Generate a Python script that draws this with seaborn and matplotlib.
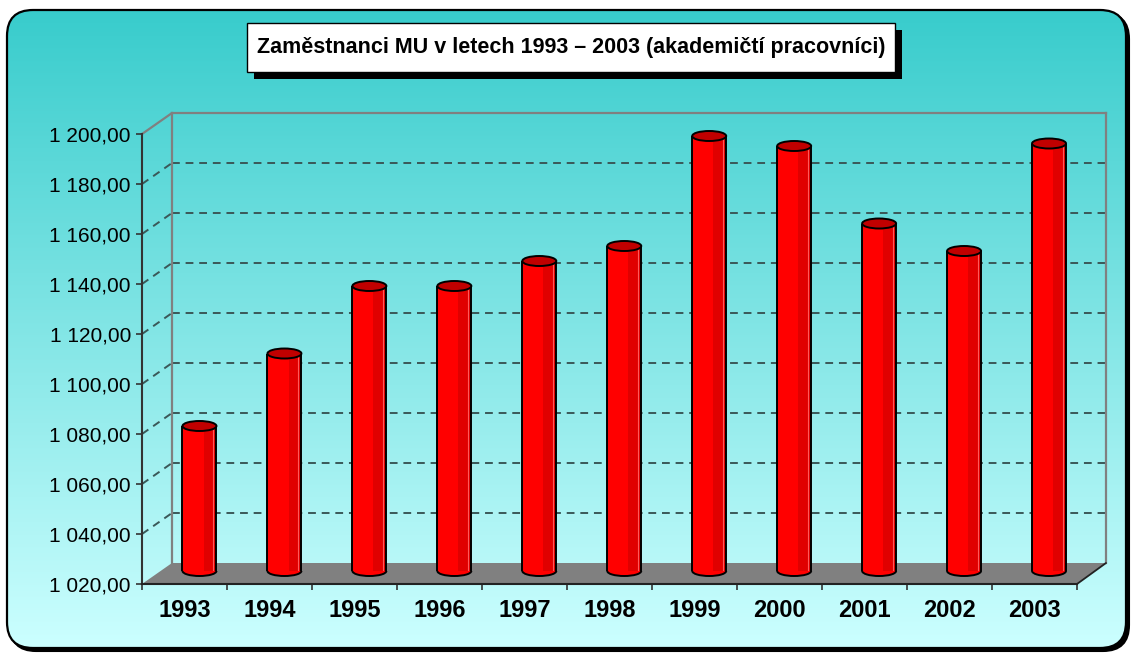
import numpy as np
import pandas as pd
import matplotlib
matplotlib.use("Agg")
import matplotlib.pyplot as plt
import seaborn as sns
from matplotlib.patches import FancyBboxPatch, Rectangle, Polygon, Ellipse, Arc
from matplotlib.lines import Line2D
from matplotlib.ticker import FuncFormatter

# ---------------- data ----------------
years = ["1993", "1994", "1995", "1996", "1997", "1998", "1999", "2000", "2001", "2002", "2003"]
staff = [1078, 1107, 1134, 1134, 1144, 1150, 1194, 1190, 1159, 1148, 1191]
y_ticks = [1020, 1040, 1060, 1080, 1100, 1120, 1140, 1160, 1180, 1200]
title = "Zaměstnanci MU v letech 1993 – 2003 (akademičtí pracovníci)"

W, H = 1131, 655
sns.set_theme(style="white")
plt.rcParams['font.family'] = ['Liberation Sans', 'DejaVu Sans']
plt.rcParams['text.color'] = 'black'

fig = plt.figure(figsize=(W / 100, H / 100), dpi=100)
fig.patch.set_facecolor('white')


def rect(x0, y0, x1, y1):
    return [x0 / W, 1 - y1 / H, (x1 - x0) / W, (y1 - y0) / H]


# ---------------- background panel ----------------
bg = fig.add_axes([0, 0, 1, 1], zorder=0)
bg.set_xlim(0, W)
bg.set_ylim(H, 0)
bg.axis('off')

px0, py0, px1, py1 = 7, 10, 1126, 648
shadow = FancyBboxPatch((px0 + 3, py0 + 3), px1 - px0, py1 - py0,
                        boxstyle="round,pad=0,rounding_size=26",
                        fc='black', ec='black', lw=1.5)
bg.add_patch(shadow)
panel = FancyBboxPatch((px0, py0), px1 - px0, py1 - py0,
                       boxstyle="round,pad=0,rounding_size=26",
                       fc='none', ec='black', lw=1.6, zorder=3)
bg.add_patch(panel)
top_c = np.array([0.22, 0.80, 0.80])
bot_c = np.array([0.80, 1.00, 1.00])
t = np.linspace(0, 1, 400)[:, None]
grad = (top_c * (1 - t) + bot_c * t)[:, None, :]
im = bg.imshow(grad, extent=(px0, px1, py1, py0), origin='upper',
               aspect='auto', zorder=2, interpolation='bilinear')
im.set_clip_path(panel)

# title box
bg.add_patch(Rectangle((254, 30), 648, 49, fc='black', ec='none', zorder=4))
bg.add_patch(Rectangle((247, 23), 648, 49, fc='white', ec='black', lw=1.0, zorder=5))
bg.text(571, 48, title, ha='center', va='center', fontsize=15.5, fontweight='bold',
        color='black', family=['Liberation Sans Narrow', 'Liberation Sans', 'DejaVu Sans'],
        zorder=6)

# ---------------- axes: back wall, front axis, bar plane ----------------
ax_back = fig.add_axes(rect(172, 113, 1106, 563), zorder=1)
ax_front = fig.add_axes(rect(142, 134, 1077, 584), zorder=2)
ax_mid = fig.add_axes(rect(157, 121, 1091.5, 571), zorder=3)

for a in (ax_back, ax_front, ax_mid):
    a.set_facecolor('none')

nx = len(years)
xlo, xhi = -0.5, nx - 0.5

# back wall
ax_back.set_xlim(xlo, xhi)
ax_back.set_ylim(y_ticks[0], y_ticks[-1])
ax_back.set_xticks([])
ax_back.set_yticks(y_ticks[1:-1])
ax_back.tick_params(axis='y', length=0, labelleft=False)
ax_back.grid(axis='y', color='#3a5858', lw=1.4, linestyle=(0, (4, 3)))
for s in ('top', 'left', 'right'):
    ax_back.spines[s].set_color('#808080')
    ax_back.spines[s].set_linewidth(1.6)
ax_back.spines['bottom'].set_visible(False)

# front axis
ax_front.set_xlim(xlo, xhi)
ax_front.set_ylim(y_ticks[0], y_ticks[-1])
ax_front.set_yticks(y_ticks)
ax_front.yaxis.set_major_formatter(
    FuncFormatter(lambda v, p: f"{v:,.2f}".replace(",", " ").replace(".", ",")))
ax_front.tick_params(axis='y', direction='out', length=4, width=1.2, color='#333333',
                     labelsize=15, labelcolor='black', pad=4, left=True)
ax_front.set_xticks(np.arange(xlo, xhi + 0.01, 1.0))
ax_front.set_xticklabels([])
ax_front.set_xticks(range(nx), labels=years, minor=True)
ax_front.tick_params(axis='x', which='major', direction='out', length=4.5, width=1.2,
                     color='#333333', bottom=True)
ax_front.tick_params(axis='x', which='minor', length=0, pad=11, labelsize=17,
                     labelcolor='black', bottom=True)
for lab in ax_front.get_xticklabels(minor=True):
    lab.set_fontweight('bold')
ax_front.spines['top'].set_visible(False)
ax_front.spines['right'].set_visible(False)
ax_front.spines['left'].set_color('#333333')
ax_front.spines['left'].set_linewidth(1.5)
ax_front.spines['bottom'].set_color('#222222')
ax_front.spines['bottom'].set_linewidth(1.5)

# connections between front axis and back wall (depth lines)
to_fig = fig.transFigure.inverted()


def fpt(ax, x, y):
    return to_fig.transform(ax.transData.transform((x, y)))


for v in y_ticks[1:-1]:
    p0 = fpt(ax_front, xlo, v)
    p1 = fpt(ax_back, xlo, v)
    fig.add_artist(Line2D([p0[0], p1[0]], [p0[1], p1[1]], transform=fig.transFigure,
                          color='#3a5858', lw=1.4, linestyle=(0, (4, 3)), zorder=1.5))
p0 = fpt(ax_front, xlo, y_ticks[-1])
p1 = fpt(ax_back, xlo, y_ticks[-1])
fig.add_artist(Line2D([p0[0], p1[0]], [p0[1], p1[1]], transform=fig.transFigure,
                      color='#808080', lw=1.6, zorder=1.5))

# floor
floor_pts = [fpt(ax_front, xlo, y_ticks[0]), fpt(ax_front, xhi, y_ticks[0]),
             fpt(ax_back, xhi, y_ticks[0]), fpt(ax_back, xlo, y_ticks[0])]
floor = Polygon(floor_pts, closed=True, transform=fig.transFigure,
                fc='#808080', ec='none', zorder=1.2)
fig.add_artist(floor)
fig.add_artist(Line2D([floor_pts[1][0], floor_pts[2][0]], [floor_pts[1][1], floor_pts[2][1]],
                      transform=fig.transFigure, color='#222222', lw=1.3, zorder=1.6))

# ---------------- bars ----------------
df = pd.DataFrame({"year": years, "staff": staff})
sns.barplot(data=df, x="year", y="staff", order=years, color="#ff0000", saturation=1,
            width=0.4, ax=ax_mid, edgecolor='none', linewidth=0)
ax_mid.set_xlim(xlo, xhi)
ax_mid.set_ylim(y_ticks[0], y_ticks[-1])
ax_mid.axis('off')

fig.canvas.draw()
bb = ax_mid.get_window_extent()
ppu = bb.height / (y_ticks[-1] - y_ticks[0])
eh = 10.0 / ppu
base = y_ticks[0]

for p in list(ax_mid.patches):
    x0 = p.get_x()
    w = p.get_width()
    top = p.get_y() + p.get_height()
    cx = x0 + w / 2
    # darker right band
    ax_mid.add_patch(Rectangle((x0 + 0.62 * w, base), 0.38 * w, top - base,
                               fc='#e00000', ec='none', zorder=1.5))
    ax_mid.vlines(x0 + 0.9 * w, base, top, color='#ff5a5a', lw=0.8, zorder=1.6)
    # lower rounded end
    tt = np.linspace(np.pi, 2 * np.pi, 60)
    half = np.column_stack([cx + w / 2 * np.cos(tt), base + eh / 2 * np.sin(tt)])
    hp = Polygon(half, closed=True, fc='#ff0000', ec='none', clip_on=False, zorder=1.4)
    ax_mid.add_patch(hp)
    band = Rectangle((x0 + 0.62 * w, base - eh), 0.38 * w, eh, fc='#e00000', ec='none',
                     zorder=1.5)
    ax_mid.add_patch(band)
    band.set_clip_path(hp)
    ax_mid.add_patch(Arc((cx, base), w, eh, theta1=180, theta2=360, color='black',
                         lw=1.4, clip_on=False, zorder=2))
    ax_mid.vlines([x0, x0 + w], base, top, color='black', lw=1.4, zorder=2)
    # top cap
    ax_mid.add_patch(Ellipse((cx, top), w, eh, fc='#c00000', ec='black', lw=1.4,
                             clip_on=False, zorder=3))

fig.savefig("out.png", dpi=100, facecolor=fig.get_facecolor())
